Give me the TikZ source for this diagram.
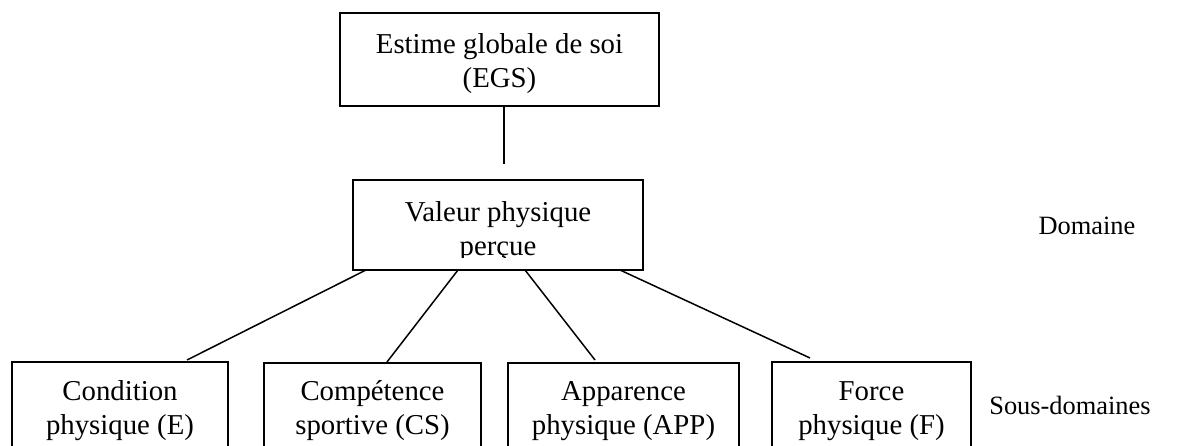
\documentclass[tikz,border=0pt]{standalone}
\usepackage{fontspec}
\setmainfont{Liberation Serif}
\begin{document}
\begin{tikzpicture}[x=1pt,y=-1pt,
  box/.style={draw, line width=1.7pt, inner sep=0pt},
  lbl/.style={font=\fontsize{28.8}{34}\selectfont, align=center, inner sep=0pt},
  side/.style={font=\fontsize{26.4}{30}\selectfont, inner sep=0pt},
  link/.style={line width=1.5pt}]
\useasboundingbox (0,0) rectangle (1177,446);
\clip (0,0) rectangle (1177,446);
% top box
\node[box, minimum width=319pt, minimum height=93pt] (egs) at (499.5,59.5) {};
\node[lbl] (egst) at (499.5,64) {Estime globale de soi\\(EGS)};
% middle box
\node[box, minimum width=290pt, minimum height=90pt] (vp) at (498,225) {};
\begin{scope}
  \clip (353,180) rectangle (643,257.5);
  \node[lbl] (vpt) at (498,232) {Valeur physique\\perçue};
\end{scope}
% bottom boxes
\node[box, minimum width=216pt, minimum height=120pt] (ce) at (120,422) {};
\node[box, minimum width=217pt, minimum height=120pt] (cs) at (372.5,423) {};
\node[box, minimum width=231pt, minimum height=120pt] (app) at (623.5,423) {};
\node[box, minimum width=199pt, minimum height=120pt] (fp) at (871.5,422) {};
\node[lbl] (cet) at (120,411) {Condition\\physique (E)};
\node[lbl] (cst) at (372.5,411) {Compétence\\sportive (CS)};
\node[lbl] (appt) at (623.5,411) {Apparence\\physique (APP)};
\node[lbl] (fpt) at (871.5,411) {Force\\physique (F)};
% side labels
\node[side] (dom) at (1087,226) {Domaine};
\node[side] (sdom) at (1070,405) {Sous-domaines};
% connectors
\coordinate (t0) at (504,106);
\coordinate (t1) at (504,164);
\draw[link] (t0) -- (t1);
\coordinate (s1) at (366,270);
\coordinate (s2) at (458,270);
\coordinate (s3) at (525,270);
\coordinate (s4) at (620,270);
\coordinate (e1) at (187,360);
\coordinate (e2) at (387,362);
\coordinate (e3) at (595,360);
\coordinate (e4) at (810,358);
\draw[link] (s1) -- (e1);
\draw[link] (s2) -- (e2);
\draw[link] (s3) -- (e3);
\draw[link] (s4) -- (e4);
\end{tikzpicture}
\end{document}
